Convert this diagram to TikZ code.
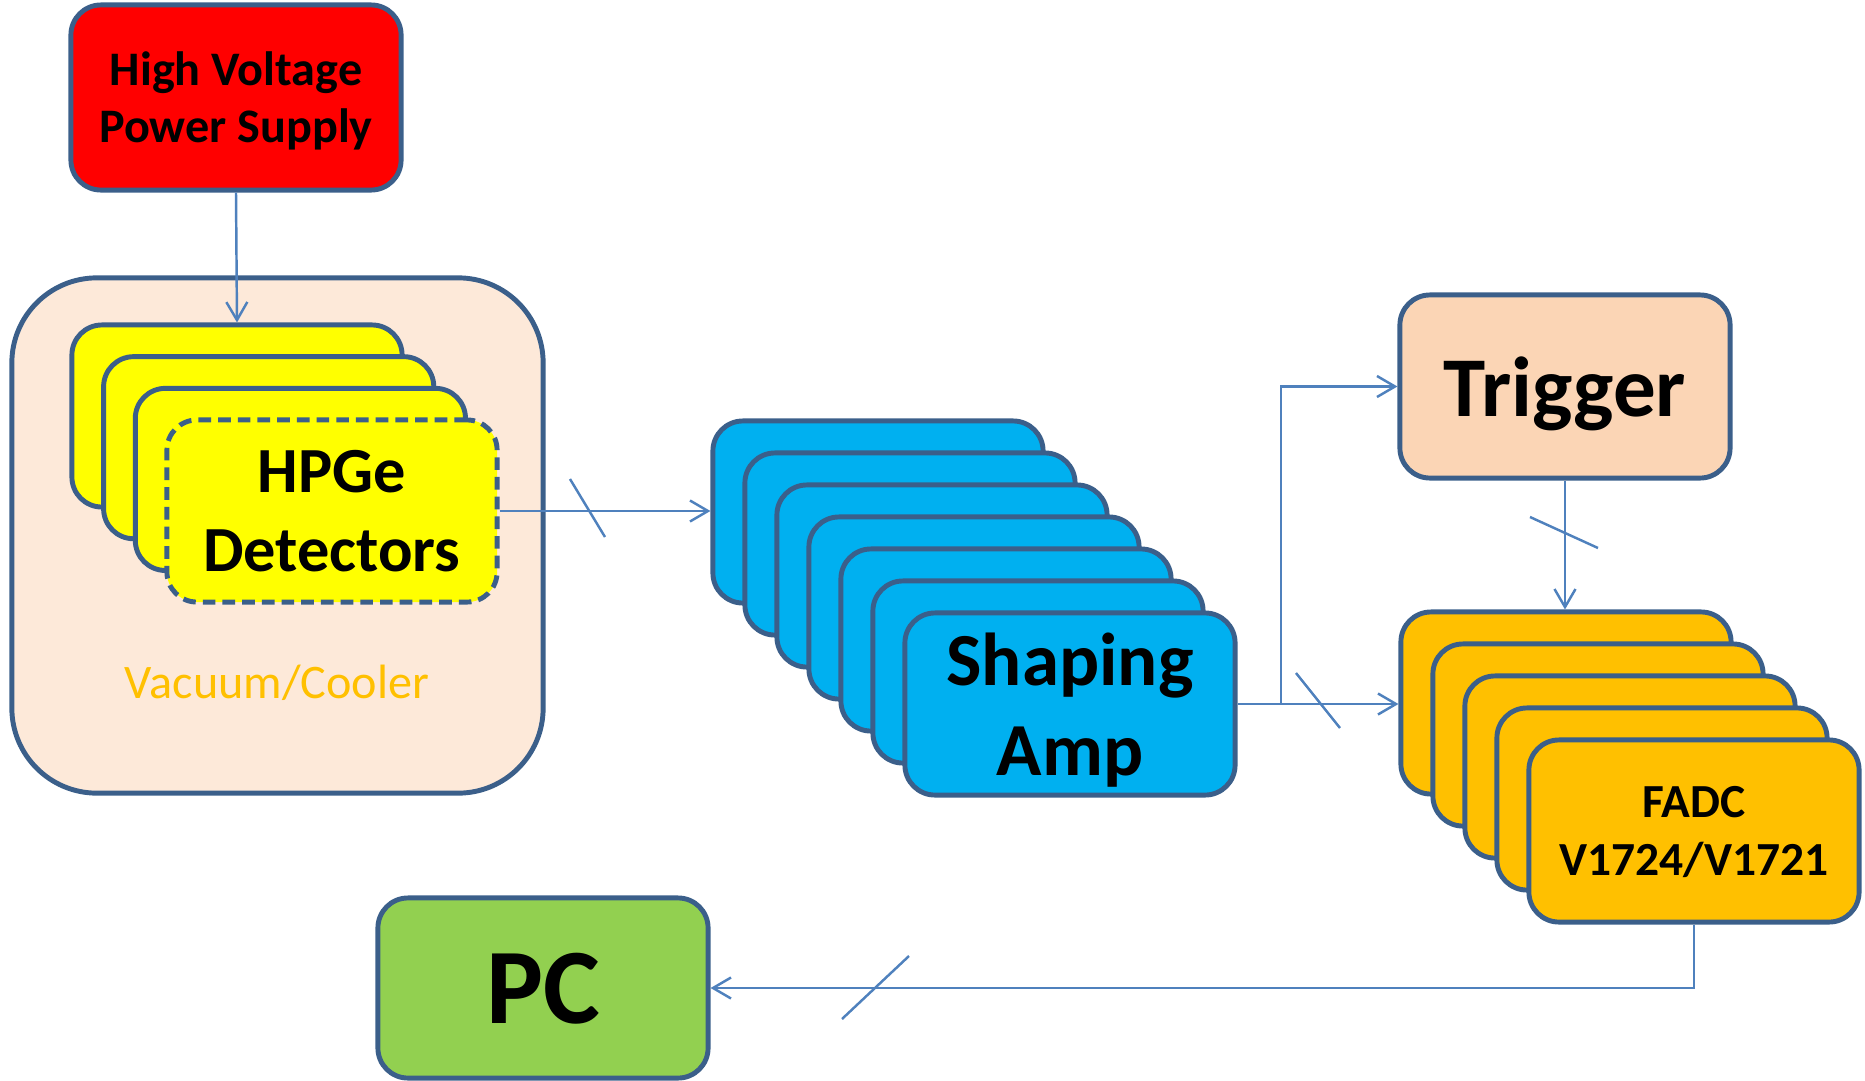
\documentclass[tikz,border=0pt]{standalone}
\usepackage{fontspec}
\setmainfont{Carlito}
\usepackage{tikz}
\usetikzlibrary{arrows.meta}

\definecolor{edge}{HTML}{3B5F8A}
\definecolor{linkblue}{HTML}{4F81BD}
\definecolor{hvred}{HTML}{FF0000}
\definecolor{detyellow}{HTML}{FFFF00}
\definecolor{ampblue}{HTML}{00B0F0}
\definecolor{trigpeach}{HTML}{FBD5B5}
\definecolor{coolbg}{HTML}{FDE9D9}
\definecolor{adcorange}{HTML}{FFC000}
\definecolor{pcgreen}{HTML}{92D050}

\tikzset{
	card/.style={draw=edge, line width=1.4pt, rounded corners=0.3cm, minimum width=3.3cm, minimum height=1.82cm, align=center, inner sep=0pt, text depth=0pt},
	link/.style={draw=linkblue, line width=0.7pt},
	>={Straight Barb[length=1.8mm, width=2.1mm]},
}

\begin{document}
\begin{tikzpicture}[x=0.01cm, y=-0.01cm]
	\useasboundingbox (0,0) rectangle (1865,1081);

	% cooler housing
	\node[draw=edge, line width=1.4pt, fill=coolbg, rounded corners=0.85cm, minimum width=5.31cm, minimum height=5.15cm] (cooler) at (277.5,535.5) {};
	\node[anchor=base, text=adcorange, font=\fontsize{13.7}{16}\selectfont] (coolerlabel) at (277,698) {Vacuum/Cooler};

	\node[card, fill=hvred, minimum height=1.85cm, font=\bfseries\fontsize{13.7}{16.2}\selectfont] (hv) at (236,97.5) {High Voltage\\Power Supply};

	% detector stack
	\foreach \i in {1,2,3}
		\node[card, fill=detyellow] (det\i) at ({237+31.7*(\i-1)},{416+31.7*(\i-1)}) {};
	\node[card, fill=detyellow, dash pattern=on 3.6pt off 2pt, font=\bfseries\fontsize{18.3}{22.5}\selectfont] (det4) at (332,511) {HPGe\\Detectors};

	% amplifier stack
	\foreach \i in {1,...,6}
		\node[card, fill=ampblue] (amp\i) at ({878+32*(\i-1)},{512+32*(\i-1)}) {};
	\node[card, fill=ampblue, font=\bfseries\fontsize{21.3}{25.6}\selectfont] (amp7) at (1070,704) {Shaping\\Amp};

	\node[card, fill=trigpeach, minimum height=1.83cm, font=\bfseries\fontsize{24.2}{29}\selectfont] (trig) at (1565,386.5) {Trigger};

	% digitizer stack
	\foreach \i in {1,...,4}
		\node[card, fill=adcorange] (adc\i) at ({1566+32*(\i-1)},{703+32*(\i-1)}) {};
	\node[card, fill=adcorange, font=\bfseries\fontsize{13.5}{16.5}\selectfont] (adc5) at (1694,831) {FADC\\V1724/V1721};

	\node[card, fill=pcgreen, minimum height=1.8cm, font=\bfseries\fontsize{30.5}{36}\selectfont] (pc) at (543,988) {PC};

	% signal lines
	\draw[link, ->] (hv.south) -- (det1.north);
	\draw[link, ->] (det4.east) -- (det4.east -| amp1.west);
	\draw[link, ->] (amp7.east) -- (amp7.east -| adc1.west) coordinate[pos=0.27] (split);
	\draw[link, ->] (split) |- (trig.west);
	\draw[link, ->] (trig.south) -- (trig.south |- adc1.north);
	\draw[link, ->] (adc5.south) |- (pc.east);

	% bus marks
	\draw[link] (570,479) -- (605,537);
	\draw[link] (1296,673) -- (1340,728);
	\draw[link] (1530,517) -- (1598,548);
	\draw[link] (842,1019) -- (909,956);
\end{tikzpicture}
\end{document}
